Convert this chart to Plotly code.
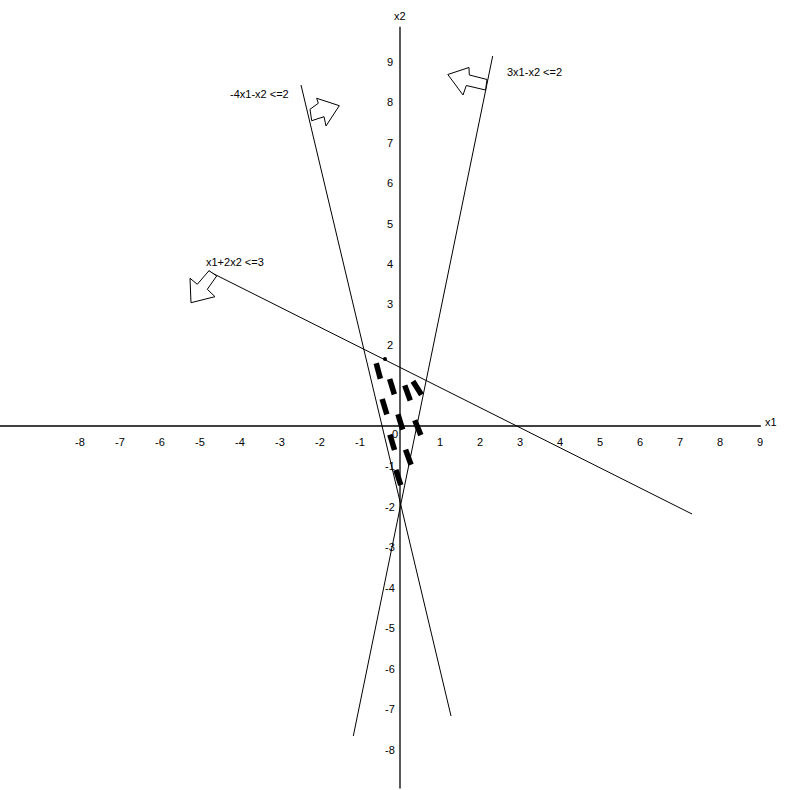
import plotly.graph_objects as go

# ---------------- data ----------------
# axis extents (data units)
x_axis_x = [-10.0, 9.02]
x_axis_y = [0.0, 0.0]
y_axis_x = [0.0, 0.0]
y_axis_y = [9.86, -8.95]

# tick labels
x_tick_vals = [-8, -7, -6, -5, -4, -3, -2, -1, 1, 2, 3, 4, 5, 6, 7, 8, 9]
x_tick_text = [str(v) for v in x_tick_vals]
y_tick_vals = [9, 8, 7, 6, 5, 4, 3, 2, -1, -2, -3, -4, -5, -6, -7, -8]
y_tick_text = [str(v) for v in y_tick_vals]
origin_text = "0"

# constraint lines (end points as drawn)
c1_x = [-4.8, 7.3]          # x1 + 2x2 <= 3
c1_y = [3.827, -2.173]
c2_x = [-2.475, 1.275]      # -4x1 - x2 <= 2
c2_y = [8.42, -7.16]
c3_x = [2.3175, -1.1675]    # 3x1 - x2 <= 2
c3_y = [9.136, -7.654]

# block arrows pointing to the feasible side
arrow1_x = [-4.775, -5.0675, -5.25, -5.225, -4.625, -4.8175, -4.5825, -4.775]
arrow1_y = [3.835, 3.499, 3.647, 3.044, 3.193, 3.375, 3.704, 3.835]
arrow2_x = [-2.25, -2.0425, -2.0825, -1.5175, -1.85, -1.9, -2.2075, -2.25]
arrow2_y = [7.82, 7.968, 8.091, 7.909, 7.407, 7.637, 7.538, 7.82]
arrow3_x = [2.175, 1.7325, 1.725, 1.195, 1.575, 1.6575, 2.1375, 2.175]
arrow3_y = [8.556, 8.667, 8.852, 8.679, 8.173, 8.407, 8.296, 8.556]

# constraint labels (left end of text)
lab_text = ["x1+2x2 <=3", "-4x1-x2 <=2", "3x1-x2 <=2"]
lab_x = [-4.9, -4.2925, 2.625]
lab_y = [4.057, 8.198, 8.748]

# hatch dashes inside feasible region
hatch_x = [-0.5425, -0.2, 0.1875, 0.43, -0.3875, 0.0075, 0.445, -0.195, 0.2075, -0.0425]
hatch_y = [1.358, 0.970, 0.815, 0.938, 0.477, 0.099, -0.042, -0.402, -0.770, -1.272]
hatch_angle = [-15, -17, -20, -32, -17, -17, -22, -17, -20, -18]

# small dot on the first line
dot_x = [-0.375]
dot_y = [1.654]

# ---------------- figure ----------------
FONT = dict(family="Liberation Sans, Arial, Helvetica, sans-serif", size=11, color="black")
fig = go.Figure()

line_style = dict(color="black", width=1)
fig.add_trace(go.Scatter(x=x_axis_x, y=x_axis_y, mode="lines",
                         line=dict(color="black", width=1.3), hoverinfo="skip"))
fig.add_trace(go.Scatter(x=y_axis_x, y=y_axis_y, mode="lines",
                         line=dict(color="black", width=1.3), hoverinfo="skip"))

for cx, cy in [(c1_x, c1_y), (c2_x, c2_y), (c3_x, c3_y)]:
    fig.add_trace(go.Scatter(x=cx, y=cy, mode="lines", line=line_style, hoverinfo="skip"))

for ax, ay in [(arrow1_x, arrow1_y), (arrow2_x, arrow2_y), (arrow3_x, arrow3_y)]:
    fig.add_trace(go.Scatter(x=ax, y=ay, mode="lines", fill="toself", fillcolor="white",
                             line=dict(color="black", width=1), hoverinfo="skip"))

fig.add_trace(go.Scatter(x=hatch_x, y=hatch_y, mode="markers", hoverinfo="skip",
                         marker=dict(symbol="line-ns", size=11.5, angle=hatch_angle,
                                     color="black", line=dict(color="black", width=5.5))))
fig.add_trace(go.Scatter(x=dot_x, y=dot_y, mode="markers", hoverinfo="skip",
                         marker=dict(symbol="circle", size=4, color="black")))

ann = []
for v, t in zip(x_tick_vals, x_tick_text):
    ann.append(dict(x=v, y=0, xref="x", yref="y", text=t, showarrow=False,
                    xanchor="center", yanchor="middle", yshift=-16, font=FONT))
for v, t in zip(y_tick_vals, y_tick_text):
    ann.append(dict(x=0, y=v, xref="x", yref="y", text=t, showarrow=False,
                    xanchor="center", yanchor="middle", xshift=-10, font=FONT))
ann.append(dict(x=0, y=0, xref="x", yref="y", text=origin_text, showarrow=False,
                xanchor="center", yanchor="middle", xshift=-5, yshift=-8, font=FONT))
ann.append(dict(x=x_axis_x[1], y=0, xref="x", yref="y", text="x1", showarrow=False,
                xanchor="left", yanchor="middle", xshift=2, yshift=4, font=FONT))
ann.append(dict(x=0, y=y_axis_y[0], xref="x", yref="y", text="x2", showarrow=False,
                xanchor="center", yanchor="bottom", yshift=3, font=FONT))
for t, x, y in zip(lab_text, lab_x, lab_y):
    ann.append(dict(x=x, y=y, xref="x", yref="y", text=t, showarrow=False,
                    xanchor="left", yanchor="middle", font=FONT))

fig.update_layout(
    width=801, height=790,
    margin=dict(l=0, r=0, t=0, b=0),
    paper_bgcolor="white", plot_bgcolor="white",
    showlegend=False,
    xaxis=dict(range=[-10, 10.025], visible=False, fixedrange=True),
    yaxis=dict(range=[-8.988, 10.5185], visible=False, fixedrange=True),
    annotations=ann,
)

fig.write_html("out.html", config={"displayModeBar": False},
               post_script="document.body.style.margin='0';document.body.style.overflow='hidden';")
